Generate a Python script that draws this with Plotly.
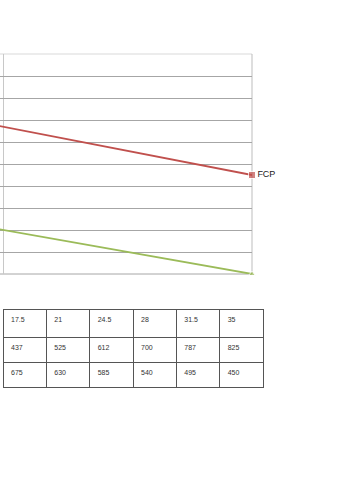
import plotly.graph_objects as go

# ---- data ----
categories = ["17.5", "21", "24.5", "28", "31.5", "35"]
row_two = [437, 525, 612, 700, 787, 825]
fcp = [675, 630, 585, 540, 495, 450]
green_vals = [205, 164, 123, 82, 41, 0]
fcp_label = ["", "", "", "", "", "FCP"]

x_idx = list(range(len(categories)))
red_marker_sizes = [0, 0, 0, 0, 0, 7]
green_marker_sizes = [0, 0, 0, 0, 0, 6]

W, H = 359, 480
L, R, T, B = 0, 96, 54, 92
plot_w = W - L - R          # 263
plot_h = H - T - B          # 334
axis_right_px = 252
axis_bottom_px = 274
table_top_px = 309

x_dom_end = axis_right_px / plot_w
y_dom_start = (H - B - axis_bottom_px) / plot_h
step_px = 51.0
x_end = 5.0
x_start = x_end - axis_right_px / step_px
left_line_x = x_start + 3 / step_px

fig = go.Figure()

fig.add_trace(go.Scatter(
    x=x_idx, y=green_vals, mode="lines+markers", name="",
    line=dict(color="#9bbb59", width=1.8),
    marker=dict(symbol="triangle-up", size=green_marker_sizes, color="#9bbb59"),
    cliponaxis=False, showlegend=False, hoverinfo="skip",
))
fig.add_trace(go.Scatter(
    x=x_idx, y=fcp, mode="lines+markers+text", name="FCP",
    text=fcp_label, textposition="middle right",
    textfont=dict(family="Liberation Sans, Arial, sans-serif", size=9, color="#222"),
    line=dict(color="#c0504d", width=1.8),
    marker=dict(symbol="square", size=red_marker_sizes, color="#c0504d"),
    cliponaxis=False, showlegend=False, hoverinfo="skip",
))

fig.add_trace(go.Table(
    domain=dict(x=[3 / plot_w, 1], y=[0, (H - B - table_top_px) / plot_h]),
    columnwidth=[1] * len(categories),
    header=dict(
        values=categories, align="left", height=28,
        fill_color="white", line=dict(color="#555", width=1),
        font=dict(family="Liberation Sans, Arial, sans-serif", size=7, color="#333"),
    ),
    cells=dict(
        values=[[a, b] for a, b in zip(row_two, fcp)], align="left", height=25,
        fill_color="white", line=dict(color="#555", width=1),
        font=dict(family="Liberation Sans, Arial, sans-serif", size=7, color="#333"),
    ),
))

fig.update_xaxes(
    domain=[0, x_dom_end], range=[x_start, x_end],
    showticklabels=False, ticks="", showline=False, zeroline=False,
    showgrid=True, gridcolor="#c8c8c8", gridwidth=1,
    tickmode="array", tickvals=[left_line_x],
)
fig.update_yaxes(
    domain=[y_dom_start, 1], range=[0, 1000],
    showticklabels=False, ticks="", showline=False, zeroline=False,
    showgrid=True, gridcolor="#a6a6a6", gridwidth=1,
    tickmode="array", tickvals=[100, 200, 300, 400, 500, 600, 700, 800, 900],
)

# plot-area frame: light top edge, grey bottom and right edges
fig.add_shape(type="line", xref="x domain", yref="y domain", layer="below",
              x0=0, x1=1, y0=1, y1=1, line=dict(color="#d9d9d9", width=1))
fig.add_shape(type="line", xref="x domain", yref="y domain", layer="below",
              x0=0, x1=1, y0=0, y1=0, line=dict(color="#a6a6a6", width=1))
fig.add_shape(type="line", xref="x domain", yref="y domain", layer="below",
              x0=1, x1=1, y0=0, y1=1, line=dict(color="#bdbdbd", width=1))

fig.update_layout(
    width=W, height=H,
    margin=dict(l=L, r=R, t=T, b=B, pad=0),
    paper_bgcolor="white", plot_bgcolor="white",
    showlegend=False,
)

fig.write_html(
    "out.html",
    config={"displayModeBar": False},
    post_script="document.body.style.margin='0';document.body.style.padding='0';",
)
